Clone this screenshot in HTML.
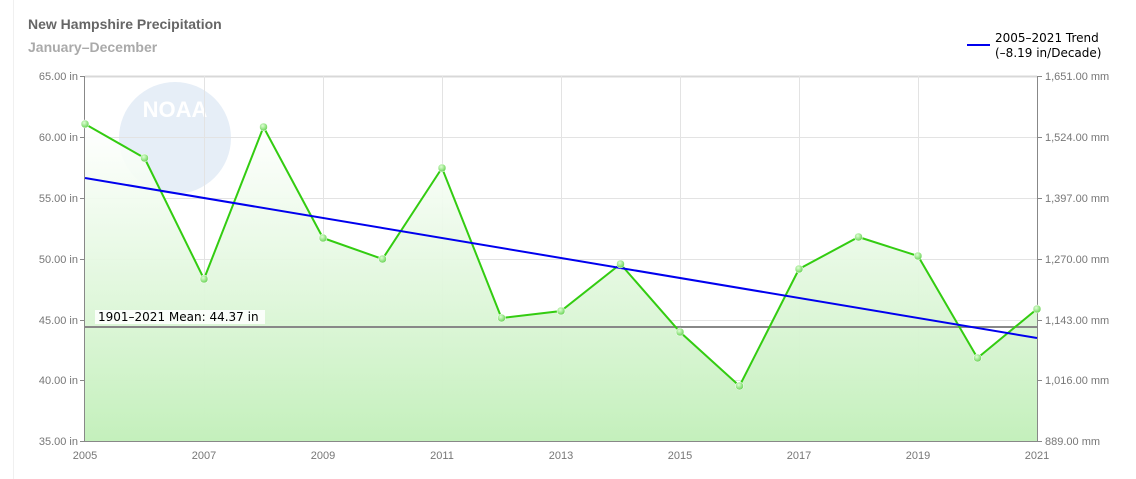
<!DOCTYPE html>
<html><head><meta charset="utf-8"><style>
html,body{margin:0;padding:0;background:#fff;}
svg{display:block;font-family:"Liberation Sans","DejaVu Sans",sans-serif;}
</style></head><body>
<svg width="1136" height="479" viewBox="0 0 1136 479" xmlns="http://www.w3.org/2000/svg">
<defs>
<linearGradient id="fill" x1="0" y1="0" x2="0" y2="1">
<stop offset="0" stop-color="#ffffff" stop-opacity="0.9"/>
<stop offset="1" stop-color="#c4f0bc"/>
</linearGradient>
<radialGradient id="dot" cx="0.4" cy="0.35" r="0.7">
<stop offset="0" stop-color="#dfffd5"/><stop offset="1" stop-color="#5fd04a"/>
</radialGradient>
</defs>
<line x1="13.5" y1="0" x2="13.5" y2="479" stroke="#f0f0f0"/>
<text x="28" y="29" font-size="14" font-weight="bold" fill="#666">New Hampshire Precipitation</text>
<text x="28" y="52" font-size="14" font-weight="bold" fill="#aaa">January–December</text>
<!-- NOARA logo faint -->
<circle cx="175" cy="138" r="56" fill="#e6eef7"/>
<text x="175" y="117" font-size="22" font-weight="bold" fill="#fff" text-anchor="middle">NOAA</text>
<!-- grid -->
<g stroke="#e3e3e3" stroke-width="1">
<line x1="85" y1="76.5" x2="1037" y2="76.5" stroke="#d8d8d8" stroke-width="2"/>
<line x1="85" y1="137.5" x2="1037" y2="137.5"/>
<line x1="85" y1="198.5" x2="1037" y2="198.5"/>
<line x1="85" y1="259.5" x2="1037" y2="259.5"/>
<line x1="85" y1="320.5" x2="1037" y2="320.5"/>
<line x1="85" y1="380.5" x2="1037" y2="380.5"/>
<line x1="204.5" y1="76" x2="204.5" y2="441"/>
<line x1="323.5" y1="76" x2="323.5" y2="441"/>
<line x1="442.5" y1="76" x2="442.5" y2="441"/>
<line x1="561.5" y1="76" x2="561.5" y2="441"/>
<line x1="680.5" y1="76" x2="680.5" y2="441"/>
<line x1="799.5" y1="76" x2="799.5" y2="441"/>
<line x1="918.5" y1="76" x2="918.5" y2="441"/>
</g>
<polygon fill="url(#fill)" points="85,441 85,124 144.5,158 204,279 263.5,127 323,238 382.5,259 442,168 501.5,318 561,311 620.5,264 680,332 739.5,386 799,269 858.5,237 918,256 977.5,358 1037,309 1037,441"/>
<!-- axes -->
<g stroke="#888" stroke-width="1">
<line x1="84.5" y1="76" x2="84.5" y2="441"/>
<line x1="1037.5" y1="76" x2="1037.5" y2="441"/>
<line x1="84" y1="441.5" x2="1038" y2="441.5"/>
</g>
<g stroke="#888">
<line x1="80" y1="76.5" x2="85" y2="76.5"/><line x1="80" y1="137.5" x2="85" y2="137.5"/><line x1="80" y1="198.5" x2="85" y2="198.5"/><line x1="80" y1="259.5" x2="85" y2="259.5"/><line x1="80" y1="320.5" x2="85" y2="320.5"/><line x1="80" y1="380.5" x2="85" y2="380.5"/><line x1="80" y1="441.5" x2="85" y2="441.5"/>
<line x1="1037" y1="76.5" x2="1042" y2="76.5"/><line x1="1037" y1="137.5" x2="1042" y2="137.5"/><line x1="1037" y1="198.5" x2="1042" y2="198.5"/><line x1="1037" y1="259.5" x2="1042" y2="259.5"/><line x1="1037" y1="320.5" x2="1042" y2="320.5"/><line x1="1037" y1="380.5" x2="1042" y2="380.5"/><line x1="1037" y1="441.5" x2="1042" y2="441.5"/>
</g>
<g font-size="11" fill="#777" text-anchor="end">
<text x="78" y="80">65.00 in</text><text x="78" y="141">60.00 in</text><text x="78" y="202">55.00 in</text><text x="78" y="263">50.00 in</text><text x="78" y="324">45.00 in</text><text x="78" y="384">40.00 in</text><text x="78" y="445">35.00 in</text>
</g>
<g font-size="11" fill="#777">
<text x="1045" y="80">1,651.00 mm</text><text x="1045" y="141">1,524.00 mm</text><text x="1045" y="202">1,397.00 mm</text><text x="1045" y="263">1,270.00 mm</text><text x="1045" y="324">1,143.00 mm</text><text x="1045" y="384">1,016.00 mm</text><text x="1045" y="445">889.00 mm</text>
</g>
<g font-size="11" fill="#777" text-anchor="middle">
<text x="85" y="459">2005</text><text x="204" y="459">2007</text><text x="323" y="459">2009</text><text x="442" y="459">2011</text><text x="561" y="459">2013</text><text x="680" y="459">2015</text><text x="799" y="459">2017</text><text x="918" y="459">2019</text><text x="1037" y="459">2021</text>
</g>
<!-- mean -->
<line x1="85" y1="327" x2="1037" y2="327" stroke="#888" stroke-width="2"/>
<rect x="95" y="310" width="170" height="14" fill="#fff" opacity="0.85"/>
<text x="98" y="321" font-size="12" fill="#000" font-family="DejaVu Sans, sans-serif">1901–2021 Mean: 44.37 in</text>
<!-- series -->
<polyline fill="none" stroke="#33cc11" stroke-width="2" points="85,124 144.5,158 204,279 263.5,127 323,238 382.5,259 442,168 501.5,318 561,311 620.5,264 680,332 739.5,386 799,269 858.5,237 918,256 977.5,358 1037,309"/>
<line x1="85" y1="178" x2="1037" y2="338" stroke="#0000ee" stroke-width="2"/>
<g fill="url(#dot)" stroke="#fff" stroke-width="0.5">
<circle cx="85" cy="124" r="4"/><circle cx="144.5" cy="158" r="4"/><circle cx="204" cy="279" r="4"/><circle cx="263.5" cy="127" r="4"/><circle cx="323" cy="238" r="4"/><circle cx="382.5" cy="259" r="4"/><circle cx="442" cy="168" r="4"/><circle cx="501.5" cy="318" r="4"/><circle cx="561" cy="311" r="4"/><circle cx="620.5" cy="264" r="4"/><circle cx="680" cy="332" r="4"/><circle cx="739.5" cy="386" r="4"/><circle cx="799" cy="269" r="4"/><circle cx="858.5" cy="237" r="4"/><circle cx="918" cy="256" r="4"/><circle cx="977.5" cy="358" r="4"/><circle cx="1037" cy="309" r="4"/>
</g>
<!-- legend -->
<line x1="967" y1="45" x2="990" y2="45" stroke="#0000ee" stroke-width="2"/>
<text x="995" y="42" font-size="12" fill="#000" font-family="DejaVu Sans, sans-serif">2005–2021 Trend</text>
<text x="995" y="57" font-size="12" fill="#000" font-family="DejaVu Sans, sans-serif">(–8.19 in/Decade)</text>
</svg>
</body></html>
